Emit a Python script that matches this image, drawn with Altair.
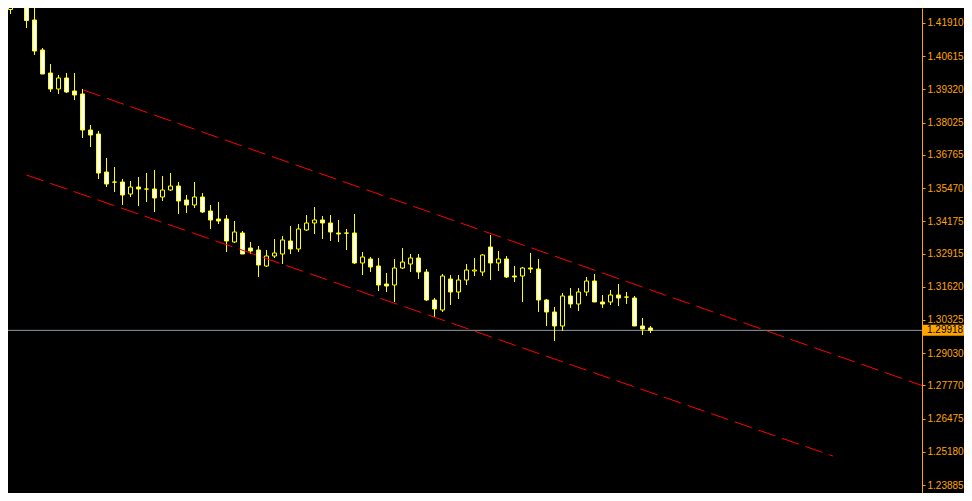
import altair as alt
import pandas as pd

# ---- candle data ----
opens = [1.42222, 1.42436, 1.43275, 1.43002, 1.42027, 1.40856, 1.39959, 1.39335, 1.39764, 1.39257,
         1.39140, 1.37735, 1.37579, 1.36096, 1.35706, 1.35706, 1.35238, 1.35511, 1.35433, 1.35433,
         1.35121, 1.35394, 1.35550, 1.35004, 1.34809, 1.35121, 1.34575, 1.34263, 1.34263, 1.33366,
         1.33717, 1.33131, 1.33053, 1.32429, 1.32819, 1.32897, 1.33405, 1.33092, 1.33834, 1.34107,
         1.34224, 1.34107, 1.33717, 1.33717, 1.33717, 1.32546, 1.32702, 1.32429, 1.31727, 1.31688,
         1.32351, 1.32507, 1.32741, 1.32195, 1.31103, 1.30713, 1.31922, 1.31415, 1.31883, 1.32234,
         1.32195, 1.33170, 1.32546, 1.32702, 1.32039, 1.32039, 1.32351, 1.32312, 1.31103, 1.30635,
         1.30089, 1.31259, 1.30947, 1.31415, 1.31844, 1.31025, 1.31025, 1.31298, 1.31220, 1.31181,
         1.30089, 1.30011]
highs = [1.42924, 1.43119, 1.43587, 1.43119, 1.42495, 1.40934, 1.40310, 1.39881, 1.39959, 1.39959,
         1.39335, 1.37930, 1.37696, 1.36643, 1.36292, 1.35823, 1.35745, 1.35901, 1.36057, 1.36174,
         1.35940, 1.36057, 1.35706, 1.35199, 1.35706, 1.35277, 1.34809, 1.34926, 1.34419, 1.34185,
         1.33795, 1.33366, 1.33209, 1.33053, 1.33483, 1.33600, 1.33990, 1.34068, 1.34419, 1.34731,
         1.34380, 1.34419, 1.34224, 1.33873, 1.34458, 1.32975, 1.32780, 1.32741, 1.32156, 1.32702,
         1.33131, 1.32897, 1.32897, 1.32312, 1.31181, 1.32117, 1.32078, 1.32078, 1.32507, 1.32741,
         1.32897, 1.33639, 1.33014, 1.32819, 1.32429, 1.32390, 1.32936, 1.32702, 1.31142, 1.30830,
         1.31376, 1.31571, 1.31571, 1.32000, 1.32117, 1.31298, 1.31493, 1.31727, 1.31415, 1.31259,
         1.30401, 1.30089]
lows = [1.42183, 1.42261, 1.42885, 1.41715, 1.40661, 1.39920, 1.39218, 1.39140, 1.39179, 1.38906,
        1.37423, 1.37072, 1.35823, 1.35511, 1.35316, 1.34809, 1.35121, 1.34770, 1.34926, 1.34536,
        1.34965, 1.35355, 1.34458, 1.34497, 1.34692, 1.34497, 1.33873, 1.34068, 1.32975, 1.33327,
        1.32897, 1.32897, 1.32000, 1.32390, 1.32741, 1.32507, 1.32897, 1.32975, 1.33795, 1.33678,
        1.33483, 1.33405, 1.33366, 1.33053, 1.32507, 1.32078, 1.32195, 1.31454, 1.31415, 1.31025,
        1.32312, 1.32195, 1.31922, 1.31064, 1.30440, 1.30635, 1.30908, 1.31142, 1.31688, 1.32039,
        1.32039, 1.31883, 1.32234, 1.31961, 1.31805, 1.31025, 1.32156, 1.30635, 1.30089, 1.29503,
        1.29894, 1.30791, 1.30674, 1.31259, 1.31025, 1.30791, 1.30908, 1.30869, 1.30947, 1.30089,
        1.29737, 1.29815]
closes = [1.42378, 1.42963, 1.43041, 1.42007, 1.40817, 1.39920, 1.39335, 1.39764, 1.39218, 1.39101,
          1.37735, 1.37540, 1.36057, 1.35628, 1.35700, 1.35199, 1.35511, 1.35433, 1.35430, 1.35082,
          1.35394, 1.35550, 1.34965, 1.34809, 1.35121, 1.34536, 1.34224, 1.34185, 1.33405, 1.33756,
          1.32897, 1.33014, 1.32468, 1.32819, 1.32936, 1.33444, 1.33092, 1.33873, 1.34107, 1.34224,
          1.34107, 1.33756, 1.33678, 1.33710, 1.32546, 1.32780, 1.32390, 1.31688, 1.31649, 1.32351,
          1.32585, 1.32741, 1.32195, 1.31103, 1.30752, 1.32039, 1.31415, 1.31883, 1.32273, 1.32273,
          1.32858, 1.32546, 1.32702, 1.32000, 1.32000, 1.32351, 1.32312, 1.31103, 1.30635, 1.30089,
          1.31259, 1.30947, 1.31415, 1.31844, 1.31025, 1.30947, 1.31298, 1.31181, 1.31215, 1.30089,
          1.29972, 1.29918]

# ---- channel lines (bar index, price) ----
upper_idx = [10.1, 115.8]
upper_price = [1.39296, 1.27669]
lower_idx = [3.0, 103.8]
lower_price = [1.35979, 1.25016]

last_price = [1.29918]
last_label = ["1.29918"]

price_ticks = [1.41910, 1.40615, 1.39320, 1.38025, 1.36765, 1.35470, 1.34175, 1.32915,
               1.31620, 1.30325, 1.29030, 1.27770, 1.26475, 1.25180, 1.23885]

PLOT_W = 914
TOTAL_W = 956
X_DOMAIN = [0.6875, (PLOT_W + 5.5) / 8]
Y_DOMAIN = [1.23573, 1.42495]

YELLOW = "#FFFF00"
ORANGE = "#FFA500"
FONT = "Liberation Sans"

candles = pd.DataFrame({
    "i": list(range(len(opens))),
    "o": opens, "h": highs, "l": lows, "c": closes,
})
channel = pd.DataFrame({
    "i": upper_idx + lower_idx,
    "p": upper_price + lower_price,
    "line": ["upper", "upper", "lower", "lower"],
})
last_df = pd.DataFrame({"p": last_price, "label": last_label})

xs = alt.Scale(domain=X_DOMAIN, nice=False, zero=False, padding=0)
ys = alt.Scale(domain=Y_DOMAIN, nice=False, zero=False, padding=0)
yaxis = alt.Axis(orient="right", values=price_ticks, format=".5f", title=None,
                 grid=False, labelOverlap=False)

base = alt.Chart(candles)

price_line = alt.Chart(last_df).mark_rule(color="#8A96A3", strokeWidth=1, clip=True).encode(
    y=alt.Y("p:Q", scale=ys, axis=yaxis)
)

wicks = base.mark_rule(color=YELLOW, strokeWidth=1, clip=True).encode(
    x=alt.X("i:Q", scale=xs, axis=None),
    y=alt.Y("h:Q", scale=ys, axis=yaxis),
    y2="l:Q",
)

bodies = base.mark_bar(size=4, stroke=YELLOW, strokeWidth=1, clip=True).encode(
    x=alt.X("i:Q", scale=xs, axis=None),
    y=alt.Y("o:Q", scale=ys, axis=yaxis),
    y2="c:Q",
    fill=alt.condition("datum.c > datum.o", alt.value("#000000"), alt.value("#FFFFFF")),
)

lines = alt.Chart(channel).mark_line(color="#FF0000", strokeWidth=1, strokeDash=[18, 7], clip=True).encode(
    x=alt.X("i:Q", scale=xs, axis=None),
    y=alt.Y("p:Q", scale=ys, axis=yaxis),
    detail="line:N",
)

box_left = PLOT_W + 1
box_w = TOTAL_W - box_left
label_box = alt.Chart(last_df).mark_tick(orient="horizontal", color=ORANGE, size=box_w, thickness=11, opacity=1).encode(
    x=alt.value(box_left + box_w / 2),
    y=alt.Y("p:Q", scale=ys, axis=yaxis),
)

label_text = alt.Chart(last_df).mark_text(align="left", baseline="middle", color="#000000",
                                          font=FONT, fontSize=10).encode(
    x=alt.value(PLOT_W + 5),
    y=alt.Y("p:Q", scale=ys, axis=yaxis),
    text="label:N",
)

chart = alt.layer(price_line, wicks, bodies, lines, label_box, label_text).properties(
    width=PLOT_W,
    height=485,
    autosize=alt.AutoSizeParams(type="none"),
    padding={"left": 0, "top": 0, "right": TOTAL_W - PLOT_W, "bottom": 0},
).configure(
    background="#000000"
).configure_view(
    strokeWidth=0
).configure_axis(
    labelFont=FONT,
    labelFontSize=10,
    labelColor=ORANGE,
    domainColor=ORANGE,
    tickColor=ORANGE,
    tickSize=3,
    labelPadding=2,
    domainWidth=1,
    tickWidth=1,
)

chart.save("out.html", embed_options={"renderer": "svg", "actions": False})
